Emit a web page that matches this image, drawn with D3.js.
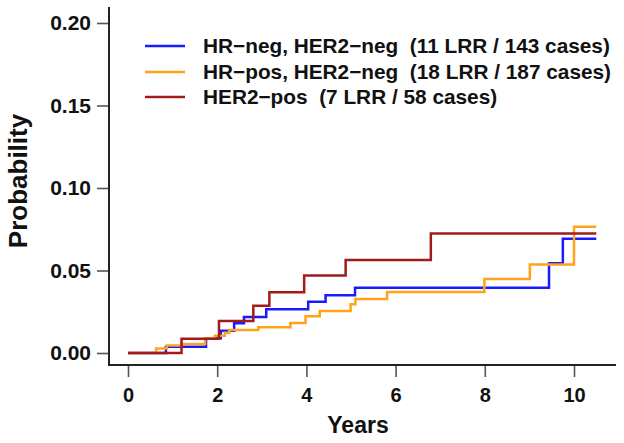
<!DOCTYPE html>
<html>
<head>
<meta charset="utf-8">
<script src="https://cdn.jsdelivr.net/npm/d3@7"></script>
<style>
  html, body { margin: 0; padding: 0; background: #fff; }
  svg { display: block; }
  text { font-family: "Liberation Sans", Arial, Helvetica, sans-serif; font-weight: bold; fill: #111; }
</style>
</head>
<body>
<svg id="chart" width="624" height="443"></svg>
<script>
// ---- data ----
const seriesNames = [
  "HR\u2212neg, HER2\u2212neg  (11 LRR / 143 cases)",
  "HR\u2212pos, HER2\u2212neg  (18 LRR / 187 cases)",
  "HER2\u2212pos  (7 LRR / 58 cases)"
];
const seriesColors = ["#1a1aff", "#ffa31a", "#a01c1c"];
const endTime = 10.5;

const blueTimes  = [0.85, 1.75, 2.08, 2.38, 2.60, 3.10, 4.04, 4.43, 5.09, 9.44, 9.75];
const blueValues = [0.0038, 0.0089, 0.0135, 0.0180, 0.0218, 0.0265, 0.0311, 0.0350, 0.0396, 0.0544, 0.0693];

const orangeTimes  = [0.63, 0.87, 1.20, 1.73, 1.95, 2.17, 2.27, 2.92, 3.64, 3.98, 4.30, 4.99, 5.10, 5.81, 7.99, 9.01, 10.0];
const orangeValues = [0.0028, 0.0046, 0.0055, 0.0089, 0.0105, 0.0123, 0.0139, 0.0156, 0.0182, 0.0222, 0.0255, 0.0295, 0.0328, 0.0370, 0.0448, 0.0537, 0.0765];

const redTimes  = [1.20, 2.04, 2.81, 3.17, 3.95, 4.88, 6.79];
const redValues = [0.0087, 0.0194, 0.0287, 0.0368, 0.0469, 0.0564, 0.0725];

const xTicks = [0, 2, 4, 6, 8, 10];
const yTicks = [0, 0.05, 0.10, 0.15, 0.20];
const xTitle = "Years";
const yTitle = "Probability";

// ---- build ----
const svg = d3.select("#chart");
const x = d3.scaleLinear().domain([0, 10]).range([128, 574]);
const y = d3.scaleLinear().domain([0, 0.2]).range([353, 23]);

const axisX0 = 109, axisY0 = 365;

// axes ticks
const gy = svg.append("g").attr("transform", `translate(${axisX0},0)`)
  .call(d3.axisLeft(y).tickValues(yTicks).tickSize(12).tickPadding(6).tickFormat(d3.format(".2f")));
const gx = svg.append("g").attr("transform", `translate(0,${axisY0})`)
  .call(d3.axisBottom(x).tickValues(xTicks).tickSize(12).tickPadding(11).tickFormat(d3.format("d")));
[gx, gy].forEach(g => {
  g.select(".domain").remove();
  g.selectAll(".tick line").attr("stroke", "#555").attr("stroke-width", 1.6);
  g.selectAll(".tick text").attr("fill", "#111");
});
gx.selectAll(".tick text").style("font-size", "20px");
gy.selectAll(".tick text").style("font-size", "21px");

// L-shaped box
svg.append("path")
  .attr("d", `M${axisX0},7 V${axisY0} H616`)
  .attr("fill", "none").attr("stroke", "#222").attr("stroke-width", 2);

// titles
svg.append("text").attr("x", 358).attr("y", 433)
  .attr("text-anchor", "middle").style("font-size", "23px").text(xTitle);
svg.append("text")
  .attr("transform", `translate(27,181) rotate(-90)`)
  .attr("text-anchor", "middle").style("font-size", "26px").text(yTitle);

// curves
const series = [
  {times: blueTimes, values: blueValues},
  {times: orangeTimes, values: orangeValues},
  {times: redTimes, values: redValues}
];
const line = d3.line().x(d => x(d[0])).y(d => y(d[1])).curve(d3.curveStepAfter);
series.forEach((s, i) => {
  const pts = [[0, 0]].concat(s.times.map((t, j) => [t, s.values[j]]));
  pts.push([endTime, s.values[s.values.length - 1]]);
  svg.append("path").attr("d", line(pts))
    .attr("fill", "none").attr("stroke", seriesColors[i]).attr("stroke-width", 2.5);
});

// legend
const legendY = [46, 72, 97];
seriesNames.forEach((name, i) => {
  svg.append("line").attr("x1", 145).attr("x2", 185)
    .attr("y1", legendY[i]).attr("y2", legendY[i])
    .attr("stroke", seriesColors[i]).attr("stroke-width", 2.5);
  svg.append("text").attr("x", 203).attr("y", legendY[i]).attr("dy", "0.36em")
    .style("font-size", "20.8px").style("white-space", "pre").attr("xml:space", "preserve").text(name);
});
</script>
</body>
</html>
